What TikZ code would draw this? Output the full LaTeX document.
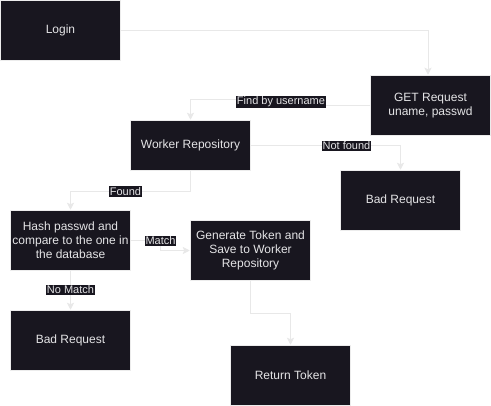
\documentclass[tikz,border=0pt]{standalone}
\usepackage{fontspec}
\setmainfont{Liberation Sans}
\usepackage{tikz}
\usetikzlibrary{arrows.meta}
\definecolor{cBox}{RGB}{24,22,31}
\definecolor{cText}{RGB}{228,228,230}
\definecolor{cEdge}{RGB}{232,232,232}
\definecolor{cRim}{RGB}{236,236,236}

\begin{document}
\begin{tikzpicture}[x=1pt,y=-1pt,
    box/.style={draw=cRim,line width=0.5pt,fill=cBox,text=cText,align=center,
      minimum width=120pt,minimum height=60pt,inner sep=0pt,
      font=\fontsize{12}{14}\selectfont},
    lbl/.style={fill=cBox,text=cText,inner xsep=0.5pt,inner ysep=1pt,
      font=\fontsize{11}{12}\selectfont},
    conn/.style={cEdge,line width=1pt,shorten >=0.5pt,
      -{Stealth[length=7pt,width=7pt,inset=1.5pt]}}]
  \useasboundingbox[fill=white] (0,0) rectangle (491,406);
  % boxes
  \node[box] (login) at (60.5,30.5) {Login};
  \node[box] (getReq) at (430.5,105.5) {GET Request\\uname, passwd};
  \node[box,minimum height=50pt] (workerRepo) at (190.5,145.5) {Worker Repository};
  \node[box] (badReqA) at (400.5,200.5) {Bad Request};
  \node[box] (hashCmp) at (70.5,240.5) {Hash passwd and\\compare to the one in\\the database};
  \node[box] (genToken) at (250.5,250.5) {Generate Token and\\Save to Worker\\Repository};
  \node[box] (badReqB) at (70.5,340.5) {Bad Request};
  \node[box] (retToken) at (290.5,375.5) {Return Token};
  % connectors
  \draw[conn] (login.east) -| ([xshift=-2.5pt]getReq.north);
  \draw[conn] (getReq.west) -- ++(-46,0) -- ++(0,-5.5) -| (workerRepo.north);
  \draw[conn] (workerRepo.east) -| (badReqA.north);
  \draw[conn] (workerRepo.south) -- ++(0,20.5) -| (hashCmp.north);
  \draw[conn] (hashCmp.east) -- ++(30,0) |- (genToken.west);
  \draw[conn] (hashCmp.south) -- (badReqB.north);
  \draw[conn] (genToken.south) -- ++(0,32.5) -| (retToken.north);
  % edge labels
  \node[lbl] (lblFind) at (281,102) {Find by username};
  \node[lbl] (lblNotFound) at (346.5,146) {Not found};
  \node[lbl] (lblFound) at (125.5,191.5) {Found};
  \node[lbl] (lblMatch) at (160.5,241) {Match};
  \node[lbl] (lblNoMatch) at (70.5,290) {No Match};
\end{tikzpicture}
\end{document}
